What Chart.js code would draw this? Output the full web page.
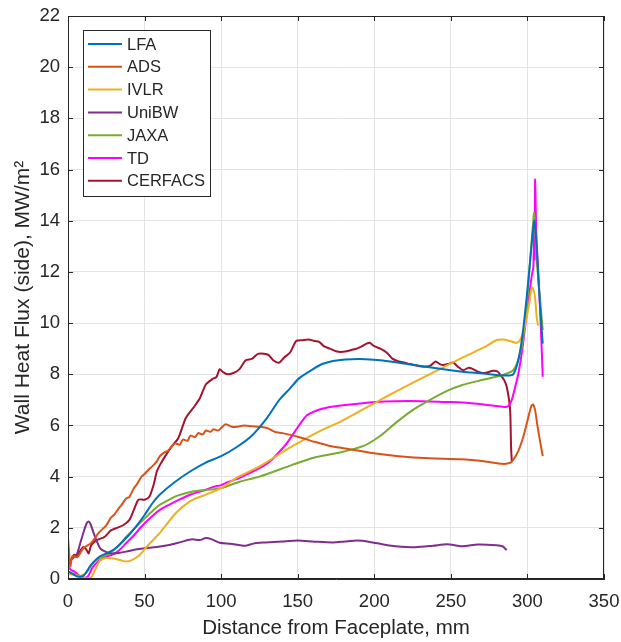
<!DOCTYPE html>
<html>
<head>
<meta charset="utf-8">
<script src="https://cdn.jsdelivr.net/npm/chart.js@4/dist/chart.umd.min.js"></script>
<style>
  html, body { margin: 0; padding: 0; background: #fff; }
  #wrap { width: 621px; height: 642px; }
</style>
</head>
<body>
<div id="wrap"><canvas id="heatChart" width="621" height="642"></canvas></div>
<script>
// Wall heat flux along the chamber side, one x/y pair per code
const lfaX = [0, 3, 6, 10, 15, 20, 25, 30, 38, 45, 50, 55, 60, 70, 81, 90, 100, 110, 120, 130, 138, 145, 151, 160, 166, 173, 181, 191, 204, 216, 236, 257.5, 271.6, 279.7, 286.7, 290.7, 293.8, 296.5, 299.5, 301.8, 303.6, 304.6, 306, 307.5, 309, 310];
const lfaY = [0.3, 0.2, 0.1, 0.12, 0.55, 0.85, 1.0, 1.15, 1.6, 2.1, 2.5, 2.95, 3.3, 3.8, 4.25, 4.55, 4.8, 5.15, 5.6, 6.3, 7.0, 7.45, 7.85, 8.2, 8.4, 8.52, 8.58, 8.6, 8.55, 8.45, 8.27, 8.1, 8.03, 7.97, 7.95, 8.0, 8.5, 9.4, 11.0, 12.46, 13.6, 14.0, 13.0, 11.4, 10.0, 9.2];

const adsX = [0, 0.5, 1.5, 3, 6, 10, 15, 20, 25, 28, 30, 33, 35, 38, 40, 43, 45, 48, 50, 53, 55, 58, 60, 63, 65, 68, 70, 73, 75, 78, 80, 83, 85, 88, 90, 93, 95, 98, 100, 103, 107, 110, 115, 120, 125, 130, 135, 140, 150, 161, 171, 181, 191, 201, 216, 236, 256.5, 271.6, 283.7, 287.5, 290, 294, 297.5, 300.5, 302.5, 303.7, 305, 306.5, 308.5, 310];
const adsY = [1.6, 1.2, 0.5, 0.9, 0.85, 1.2, 1.4, 1.8, 2.1, 2.4, 2.5, 2.75, 2.9, 3.15, 3.2, 3.55, 3.7, 4.0, 4.1, 4.3, 4.4, 4.6, 4.8, 4.95, 5.0, 5.2, 5.3, 5.25, 5.45, 5.4, 5.6, 5.55, 5.7, 5.65, 5.8, 5.75, 5.85, 5.8, 5.9, 6.05, 5.95, 5.95, 6.0, 5.97, 5.95, 5.9, 5.75, 5.7, 5.56, 5.36, 5.2, 5.1, 5.0, 4.9, 4.8, 4.72, 4.68, 4.6, 4.5, 4.52, 4.6, 5.0, 5.6, 6.3, 6.75, 6.82, 6.6, 6.0, 5.3, 4.8];

const ivlrX = [0, 5, 10, 15, 18, 21, 25, 30, 35, 38, 42, 47, 52, 60, 70, 80, 90, 100, 110, 125, 146, 165, 178, 204, 214, 236, 258.5, 271.6, 280, 284.1, 288.7, 293.1, 295.2, 297.5, 299.6, 301.5, 302.9, 304, 305, 306.1, 307];
const ivlrY = [0.2, 0.15, 0.05, 0.05, 0.4, 0.72, 0.82, 0.8, 0.72, 0.68, 0.75, 0.95, 1.3, 1.8, 2.55, 3.05, 3.3, 3.55, 3.95, 4.4, 5.17, 5.8, 6.15, 7.0, 7.32, 8.0, 8.68, 9.05, 9.34, 9.36, 9.3, 9.23, 9.34, 9.7, 10.25, 10.9, 11.4, 11.3, 11.0, 10.2, 9.9];

const unibwX = [0, 3, 6, 8, 10, 12, 13.5, 15, 17, 19, 21, 24, 28, 33, 38, 44, 50, 58, 66, 74, 81, 86, 90, 94, 99, 106, 116, 122, 129, 140, 150, 161, 173, 181, 189, 197, 206, 214, 227, 238.4, 247.5, 257.5, 267.6, 280, 283.7, 286.5];
const unibwY = [0.65, 0.8, 1.0, 1.4, 1.8, 2.15, 2.25, 2.1, 1.75, 1.45, 1.2, 1.08, 1.0, 1.02, 1.07, 1.15, 1.2, 1.25, 1.33, 1.45, 1.55, 1.52, 1.6, 1.55, 1.42, 1.38, 1.3, 1.4, 1.43, 1.47, 1.5, 1.46, 1.43, 1.47, 1.5, 1.45, 1.35, 1.28, 1.24, 1.3, 1.36, 1.28, 1.35, 1.32, 1.28, 1.13];

const jaxaX = [0, 4, 8, 12, 16, 20, 27, 33, 38, 43, 49, 55, 60, 66, 71, 80, 90, 100, 112, 125, 146, 161, 176, 193, 204, 214, 225, 236.4, 247.5, 257.5, 268.6, 279.7, 286.7, 290.7, 293, 295.2, 297, 298.5, 300, 301.3, 303.5, 304.4, 306.1, 308.3, 310];
const jaxaY = [0.3, 0.2, 0.12, 0.25, 0.6, 0.8, 1.0, 1.3, 1.65, 1.95, 2.3, 2.65, 2.9, 3.1, 3.25, 3.4, 3.48, 3.55, 3.8, 4.0, 4.45, 4.75, 4.92, 5.2, 5.6, 6.1, 6.6, 7.0, 7.35, 7.58, 7.75, 7.9, 8.03, 8.16, 8.4, 8.8, 9.3, 10.1, 11.0, 12.07, 13.76, 14.3, 12.46, 10.9, 9.73];

const tdX = [0, 2, 4, 7, 10, 13, 16, 20, 23, 26, 29, 33, 38, 43, 48, 54, 60, 66, 72, 80, 88, 95, 100, 105, 110, 117, 125, 132, 140, 144, 148, 152, 156, 161, 166, 171, 186, 201, 214, 231.4, 246.5, 257.5, 271.6, 283.7, 286.5, 288, 289.8, 292, 294.1, 296.5, 298.5, 300.2, 301.8, 303, 303.9, 304.4, 304.7, 305, 305.6, 306.1, 308.3, 310];
const tdY = [0.5, 0.35, 0.3, 0.15, 0.05, 0.1, 0.45, 0.7, 0.82, 0.9, 0.95, 1.1, 1.4, 1.7, 2.05, 2.4, 2.7, 2.9, 3.08, 3.3, 3.45, 3.6, 3.67, 3.8, 3.9, 4.1, 4.33, 4.6, 5.1, 5.4, 5.75, 6.1, 6.4, 6.55, 6.65, 6.72, 6.83, 6.92, 6.95, 6.95, 6.92, 6.9, 6.82, 6.73, 6.73, 6.8, 7.0, 7.5, 8.03, 8.9, 9.86, 10.7, 11.4, 11.9, 12.2, 13.6, 12.5, 15.6, 14.0, 13.1, 10.5, 7.9];

const cerfacsX = [0, 2, 4, 6, 8, 10, 12, 13.5, 15, 18, 20, 24, 28, 32, 36, 40, 43, 46, 50, 53, 56, 58, 60, 64, 68, 72, 77, 82, 86, 90, 94, 97, 99, 101, 104, 108, 112, 116, 120, 124, 128, 131, 134, 137.7, 141, 145, 149, 153, 157, 161, 164, 167, 171, 175, 178, 182, 185, 188.5, 192, 195, 197, 200, 204, 208, 212, 216, 220, 223, 227, 231, 234, 237, 240, 242.8, 244.8, 248.3, 251.5, 254.5, 258, 261.5, 264.5, 267.6, 270.6, 273.6, 277.6, 280.7, 283.3, 285, 286.5, 288, 288.8, 289.3, 289.8];
const cerfacsY = [0.5, 0.75, 0.95, 0.9, 1.1, 1.25, 1.15, 1.0, 1.3, 1.5, 1.55, 1.65, 1.9, 2.0, 2.1, 2.3, 2.7, 3.1, 3.1, 3.2, 3.7, 4.2, 4.45, 4.85, 5.2, 5.5, 6.3, 6.7, 7.05, 7.6, 7.8, 7.9, 8.2, 8.1, 8.0, 8.05, 8.2, 8.55, 8.6, 8.8, 8.8, 8.75, 8.55, 8.45, 8.65, 8.85, 9.3, 9.33, 9.36, 9.3, 9.27, 9.1, 9.0, 8.9, 8.87, 8.9, 8.95, 9.0, 9.1, 9.2, 9.23, 9.1, 9.0, 8.85, 8.6, 8.5, 8.45, 8.4, 8.35, 8.3, 8.3, 8.35, 8.5, 8.4, 8.36, 8.4, 8.46, 8.3, 8.16, 8.25, 8.2, 8.1, 8.05, 8.07, 8.14, 8.1, 7.9, 7.75, 7.5, 7.0, 6.5, 5.2, 4.58];

const seriesNames = ['LFA', 'ADS', 'IVLR', 'UniBW', 'JAXA', 'TD', 'CERFACS'];
const seriesColors = ['#0072BD', '#D95319', '#EDB120', '#7E2F8E', '#77AC30', '#FF00FF', '#A2142F'];
const seriesX = [lfaX, adsX, ivlrX, unibwX, jaxaX, tdX, cerfacsX];
const seriesY = [lfaY, adsY, ivlrY, unibwY, jaxaY, tdY, cerfacsY];

const xTicks = [0, 50, 100, 150, 200, 250, 300, 350];
const yTicks = [0, 2, 4, 6, 8, 10, 12, 14, 16, 18, 20, 22];

const axisColor = '#262626';
const fontFamily = '"Liberation Sans", Arial, Helvetica, sans-serif';

// MATLAB style: box around the axes, inward ticks, legend in the upper left
const matlabBox = {
    id: 'matlabBox',
    afterDraw(chart) {
        const { ctx, chartArea: a, scales } = chart;
        ctx.save();
        ctx.strokeStyle = axisColor;
        ctx.lineWidth = 1;
        ctx.strokeRect(a.left + 0.5, a.top + 0.5, a.right - a.left - 1, a.bottom - a.top - 1);

        const tl = 5;
        ctx.beginPath();
        xTicks.forEach(v => {
            const px = Math.round(scales.x.getPixelForValue(v)) + 0.5;
            ctx.moveTo(px, a.bottom); ctx.lineTo(px, a.bottom - tl);
            ctx.moveTo(px, a.top); ctx.lineTo(px, a.top + tl);
        });
        yTicks.forEach(v => {
            const py = Math.round(scales.y.getPixelForValue(v)) + 0.5;
            ctx.moveTo(a.left, py); ctx.lineTo(a.left + tl, py);
            ctx.moveTo(a.right, py); ctx.lineTo(a.right - tl, py);
        });
        ctx.stroke();

        // legend
        const lx = 83, ly = 30, lw = 127, lh = 166, rowH = 22.8;
        ctx.fillStyle = '#fff';
        ctx.fillRect(lx, ly, lw, lh);
        ctx.strokeStyle = axisColor;
        ctx.strokeRect(lx + 0.5, ly + 0.5, lw, lh);
        ctx.font = '16.5px ' + fontFamily;
        ctx.textBaseline = 'middle';
        chart.data.datasets.forEach((ds, i) => {
            const y = ly + 14 + i * rowH;
            ctx.strokeStyle = ds.borderColor;
            ctx.lineWidth = 2;
            ctx.beginPath();
            ctx.moveTo(lx + 5, y); ctx.lineTo(lx + 39, y);
            ctx.stroke();
            ctx.fillStyle = axisColor;
            ctx.fillText(ds.label, lx + 44, y + 1);
        });
        ctx.restore();
    }
};

const ctx = document.getElementById('heatChart').getContext('2d');
new Chart(ctx, {
    type: 'line',
    data: {
        datasets: seriesNames.map((name, i) => ({
            label: name,
            data: seriesX[i].map((x, j) => ({ x: x, y: seriesY[i][j] })),
            borderColor: seriesColors[i],
            backgroundColor: seriesColors[i],
            borderWidth: 2,
            pointRadius: 0,
            fill: false,
            tension: 0.25
        }))
    },
    options: {
        responsive: false,
        animation: false,
        layout: { padding: { top: 16, right: 17, left: 0, bottom: 0 } },
        plugins: {
            legend: { display: false },
            tooltip: { enabled: false }
        },
        scales: {
            x: {
                type: 'linear',
                min: 0, max: 350,
                afterBuildTicks: s => { s.ticks = xTicks.map(v => ({ value: v })); },
                afterFit: s => { s.height = 63; s.paddingLeft = 0; s.paddingRight = 0; },
                grid: { color: '#e3e3e3', drawTicks: false },
                border: { color: axisColor },
                ticks: { color: axisColor, padding: 12, font: { family: fontFamily, size: 18.5 } },
                title: {
                    display: true,
                    text: 'Distance from Faceplate, mm',
                    color: axisColor,
                    padding: { top: 0, bottom: 1 },
                    font: { family: fontFamily, size: 20.5 }
                }
            },
            y: {
                min: 0, max: 22,
                afterBuildTicks: s => { s.ticks = yTicks.map(v => ({ value: v })); },
                afterFit: s => { s.width = 68; s.paddingTop = 0; s.paddingBottom = 0; },
                grid: { color: '#e3e3e3', drawTicks: false },
                border: { color: axisColor },
                ticks: { color: axisColor, padding: 8, font: { family: fontFamily, size: 18.5 } },
                title: {
                    display: true,
                    text: 'Wall Heat Flux (side), MW/m²',
                    color: axisColor,
                    padding: { top: 11, bottom: 0 },
                    font: { family: fontFamily, size: 21 }
                }
            }
        }
    },
    plugins: [matlabBox]
});
</script>
</body>
</html>
